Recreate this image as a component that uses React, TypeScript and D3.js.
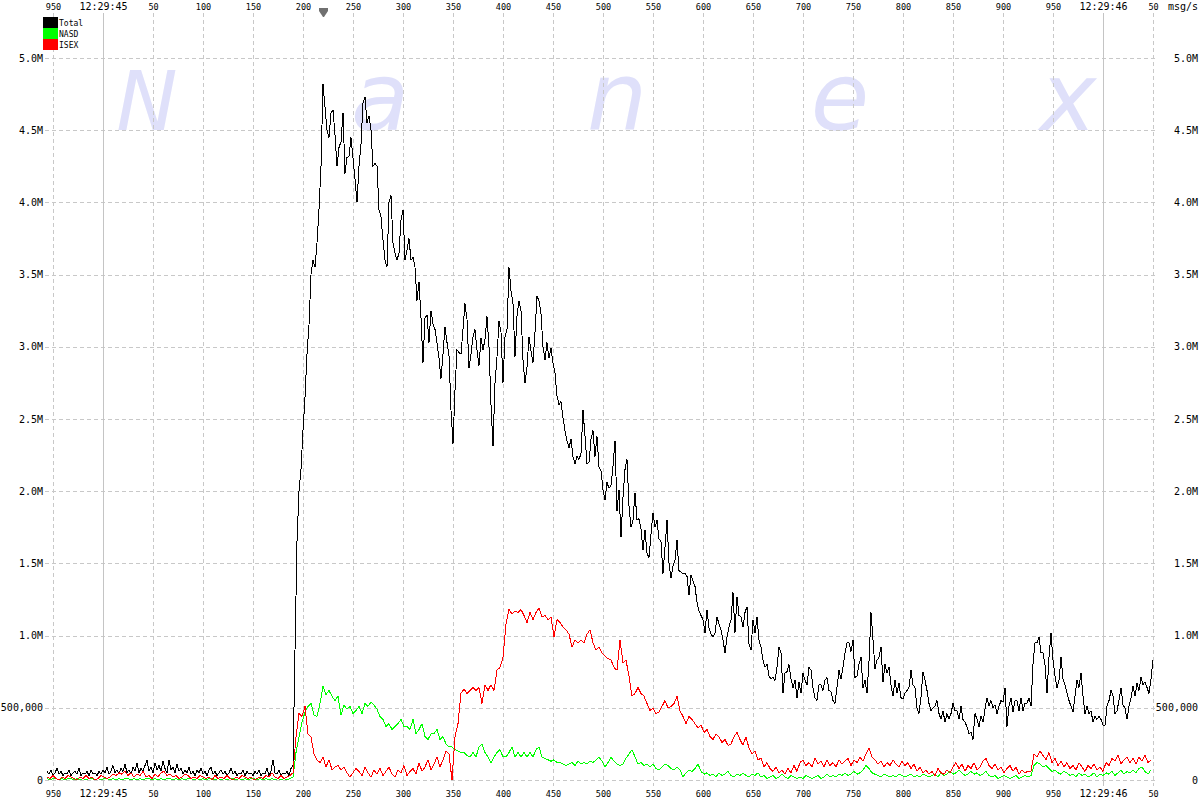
import React, { useEffect, useRef } from "react";
import * as d3 from "d3";

// time axis: milliseconds relative to 12:29:45.000
const TIME_TICKS = d3.range(-50, 1051, 50);
const VALUE_TICKS = [0, 500000, 1000000, 1500000, 2000000, 2500000, 3000000, 3500000, 4000000, 4500000, 5000000];
const SERIES_NAMES = ["Total", "NASD", "ISEX"];
const SERIES_COLORS = ["#000000", "#00ff00", "#ff0000"];
const WATERMARK = ["N", "a", "n", "e", "x"];

// values in units of 10,000 msg/s
const TOTAL_START = -56;
const TOTAL_STEP = 2;
const total10k = [
  6,4,7,3,5,8,4,6,3,5,4,7,3,5,6,4,8,3,5,4,6,3,7,4,5,3,6,
  4,7,5,9,4,6,10,5,7,4,8,6,11,5,7,4,9,6,12,5,8,6,10,
  14,6,9,5,12,7,10,6,13,8,5,14,7,9,5,11,6,8,4,7,5,9,4,6,3,7,5,
  8,4,6,3,7,9,4,6,3,5,7,4,6,3,5,8,4,6,3,5,4,7,3,6,4,5,
  3,6,4,7,3,5,4,8,3,6,14,5,4,7,3,5,4,6,3,8,
  10,90,165,200,215,242,265,295,315,350,
  360,355,372,395,425,482,466,450,445,462,
  464,447,425,438,442,462,420,431,432,445,
  431,416,400,425,440,469,473,455,460,450,
  425,427,425,395,390,374,360,355,400,405,
  372,365,360,365,388,395,360,367,375,360,
  362,355,332,345,320,289,320,322,303,325,
  316,312,303,292,278,295,314,303,294,256,
  233,270,298,296,295,312,330,319,285,295,
  307,312,298,287,306,298,305,321,300,260,
  231,275,293,318,310,275,307,312,355,339,
  330,293,321,332,325,291,275,286,307,297,
  289,310,335,332,323,300,291,303,292,299,
  289,282,266,260,262,251,242,235,230,236,
  224,219,224,222,226,256,238,219,220,236,
  242,224,238,217,214,201,194,206,202,204,
  217,235,186,201,168,196,215,222,190,175,
  180,199,180,181,174,159,173,157,154,170,
  185,175,180,167,165,143,161,180,150,140,
  148,152,166,145,144,143,143,141,128,142,
  138,134,123,117,114,111,102,118,105,101,
  99,102,113,108,104,97,88,99,106,111,
  130,102,127,114,113,106,116,120,94,90,
  111,102,113,97,92,83,78,80,72,70,
  71,69,78,92,88,60,74,75,80,70,
  64,69,57,68,60,74,69,66,78,76,
  64,57,55,66,66,62,69,71,62,61,
  55,53,64,76,70,78,88,95,95,89,
  97,71,72,80,85,64,69,60,82,116,
  97,77,83,85,92,68,80,74,78,66,
  58,69,60,67,57,56,60,62,64,76,
  66,64,50,46,57,75,69,62,53,48,
  50,51,55,46,42,48,40,46,42,46,
  53,48,48,42,51,42,40,37,32,33,
  28,46,42,37,44,40,49,57,51,55,
  50,52,46,51,55,54,64,37,51,57,
  47,55,55,48,57,48,53,53,57,51,
  80,95,95,99,88,88,80,60,85,102,
  83,72,64,69,85,70,66,60,55,51,
  47,58,69,64,74,58,46,51,46,48,
  40,44,42,44,42,38,38,51,55,62,
  58,46,48,55,64,52,50,42,51,57,
  65,58,67,62,71,66,68,64,60,70,
  83,
];

const SUB_START = -56;
const SUB_STEP = 3;
const nasd10k = [
  1,0,1,1,0,1,0,1,1,0,1,0,1,0,1,1,0,1,0,1,1,0,1,0,1,
  0,1,1,0,1,0,1,0,1,1,0,1,0,1,0,1,1,0,1,0,1,0,1,1,0,
  1,0,1,0,1,1,0,1,0,1,0,1,1,0,1,0,1,0,1,1,0,1,0,1,0,
  1,0,1,0,1,0,1,
  2,19,30,40,47,51,53,45,44,53,
  65,59,62,58,55,58,45,52,49,51,
  46,48,51,46,53,51,54,52,49,44,
  42,37,39,35,37,39,42,37,37,35,
  42,32,35,39,30,28,32,32,35,28,
  30,25,23,23,21,20,19,19,17,16,
  19,16,23,25,19,16,12,16,19,21,
  16,16,19,23,16,19,16,19,16,19,
  16,21,23,16,15,14,13,14,12,12,
  11,10,11,12,10,13,11,12,11,13,
  12,14,16,13,9,12,16,13,11,10,
  11,15,18,21,16,11,12,10,11,9,
  11,8,7,9,11,10,8,7,9,7,
  2,5,7,6,8,11,6,4,5,3,
  4,2,5,3,4,6,3,2,4,3,
  5,3,2,4,3,5,2,3,1,2,
  3,1,2,4,2,1,3,2,1,2,
  1,3,2,1,2,3,1,2,4,2,
  3,2,4,3,5,3,4,6,4,5,
  7,10,8,5,4,3,2,4,3,2,
  3,2,4,3,2,3,4,2,3,2,
  4,3,2,3,4,2,5,3,4,6,
  4,5,7,5,3,4,6,4,5,3,
  4,6,3,2,3,1,2,3,2,1,
  2,3,1,2,3,2,3,10,12,11,
  9,10,8,6,7,5,4,6,5,3,
  4,2,5,3,4,2,3,5,2,4,
  3,5,4,6,3,5,7,4,6,5,
  7,5,8,9,6,4,7,
];

const isex10k = [
  2,1,3,1,0,2,1,3,2,1,0,2,1,3,1,2,0,1,3,2,1,2,4,3,5,
  4,6,3,5,2,4,3,6,2,3,1,4,2,5,6,3,4,2,3,1,2,4,3,1,2,
  1,3,2,1,2,0,3,1,2,1,3,1,0,2,1,3,2,1,2,0,1,2,1,3,2,
  5,2,1,3,1,2,3,
  5,30,46,44,51,32,30,18,14,12,
  16,9,14,7,9,10,7,9,5,2,
  5,8,6,3,9,5,2,7,4,8,
  3,6,9,4,2,7,5,10,3,6,
  8,4,12,6,9,14,7,11,16,9,
  14,20,18,0,30,39,60,63,60,62,
  64,62,64,53,66,62,66,62,76,78,
  85,108,118,115,117,116,118,114,109,116,
  111,116,119,113,114,111,113,99,111,109,
  106,104,101,92,97,95,97,95,101,104,
  95,90,92,88,86,84,83,78,76,97,
  81,83,72,58,60,64,60,58,53,48,
  50,46,47,51,55,50,51,53,58,48,
  44,39,44,42,39,36,38,33,35,30,
  28,32,30,26,28,24,25,30,33,28,
  24,30,22,18,20,14,15,9,12,8,
  6,9,5,7,4,8,5,10,6,12,
  14,10,12,9,15,11,13,9,14,10,
  12,9,14,11,13,15,10,14,12,16,
  13,18,22,16,14,11,13,9,12,10,
  14,11,9,13,10,12,8,11,6,9,
  5,7,4,6,3,8,5,4,7,5,
  9,12,8,11,6,10,8,12,7,9,
  13,15,10,8,11,7,9,5,8,10,
  6,9,4,7,5,6,6,18,16,20,
  17,14,19,12,15,10,13,9,12,8,
  10,7,12,9,6,10,8,11,7,9,
  6,12,10,15,13,17,11,14,16,12,
  15,11,16,13,17,12,14,
];

const MARKER_TIME = 220;

function timeLabel(t: number): string {
  if (t === 0) return "12:29:45";
  if (t === 1000) return "12:29:46";
  const m = ((t % 1000) + 1000) % 1000;
  return String(m);
}
function valueLabel(v: number): string {
  if (v === 0) return "0";
  if (v < 1000000) return d3.format(",")(v);
  return (v / 1e6).toFixed(1) + "M";
}

export default function App() {
  const ref = useRef<SVGSVGElement>(null);
  useEffect(() => {
    const svg = d3.select(ref.current);
    svg.selectAll("*").remove();
    const x = d3.scaleLinear().domain([-56, 1052]).range([47, 1155]);
    const y = d3.scaleLinear().domain([0, 5000000]).range([780, 58]);
    const mono = "'DejaVu Sans Mono', monospace";

    svg.append("rect").attr("width", 1200).attr("height", 800).attr("fill", "#ffffff");

    // watermark
    const wmX = [147, 380, 617, 840, 1068];
    svg.append("g").selectAll("text").data(WATERMARK).join("text")
      .attr("x", (d, i) => wmX[i]).attr("y", 130)
      .attr("text-anchor", "middle")
      .attr("font-family", "'DejaVu Sans', sans-serif")
      .attr("font-style", "italic")
      .attr("font-size", (d, i) => (i === 0 ? 82 : 95))
      .attr("fill", "#dfe0fa")
      .text((d) => d);

    // horizontal grid
    svg.append("g").selectAll("line").data(VALUE_TICKS).join("line")
      .attr("x1", 45).attr("x2", 1155)
      .attr("y1", (d) => Math.round(y(d)) + 0.5).attr("y2", (d) => Math.round(y(d)) + 0.5)
      .attr("stroke", "#c8c8c8").attr("stroke-dasharray", "4,3");

    // vertical grid
    svg.append("g").selectAll("line").data(TIME_TICKS).join("line")
      .attr("x1", (d) => Math.round(x(d)) + 0.5).attr("x2", (d) => Math.round(x(d)) + 0.5)
      .attr("y1", 13).attr("y2", 786)
      .attr("stroke", (d) => (d % 1000 === 0 ? "#c4c4c4" : "#c8c8c8"))
      .attr("stroke-dasharray", (d) => (d % 1000 === 0 ? null : "4,3"));

    // top & bottom tick labels
    for (const [baseline] of [[10], [797]]) {
      svg.append("g").selectAll("text").data(TIME_TICKS).join("text")
        .attr("x", (d) => x(d) + 0.5).attr("y", baseline)
        .attr("text-anchor", "middle")
        .attr("font-family", mono)
        .attr("font-size", (d) => (d % 1000 === 0 ? 10 : 8.5))
        .attr("fill", "#000")
        .text((d) => timeLabel(d));
    }

    // y labels
    svg.append("g").selectAll("text").data(VALUE_TICKS).join("text")
      .attr("x", 43).attr("y", (d) => y(d) + 3.5)
      .attr("text-anchor", "end").attr("font-family", mono).attr("font-size", 10)
      .text((d) => valueLabel(d));
    svg.append("g").selectAll("text").data(VALUE_TICKS).join("text")
      .attr("x", 1198).attr("y", (d) => y(d) + 3.5)
      .attr("text-anchor", "end").attr("font-family", mono).attr("font-size", 10)
      .text((d) => valueLabel(d));
    svg.append("text").attr("x", 1198).attr("y", 10).attr("text-anchor", "end")
      .attr("font-family", mono).attr("font-size", 10).text("msg/s");

    // marker
    const mx = Math.round(x(MARKER_TIME));
    svg.append("path")
      .attr("d", `M${mx - 4},8 H${mx + 5} V11 L${mx + 1},17 H${mx} L${mx - 4},11 Z`)
      .attr("fill", "#707070");

    // series
    const seriesData = [
      { vals: total10k, start: TOTAL_START, step: TOTAL_STEP },
      { vals: nasd10k, start: SUB_START, step: SUB_STEP },
      { vals: isex10k, start: SUB_START, step: SUB_STEP },
    ];
    seriesData.forEach((s, k) => {
      const line = d3.line<number>()
        .x((d, i) => x(s.start + i * s.step))
        .y((d) => y(d * 10000));
      svg.append("path").attr("d", line(s.vals) as string)
        .attr("fill", "none").attr("stroke", SERIES_COLORS[k]).attr("stroke-width", 1)
        .attr("shape-rendering", "crispEdges");
    });

    // legend
    const lg = svg.append("g");
    SERIES_NAMES.forEach((name, i) => {
      lg.append("rect").attr("x", 43).attr("y", 17 + i * 11).attr("width", 15).attr("height", 11)
        .attr("fill", SERIES_COLORS[i]);
      lg.append("text").attr("x", 59).attr("y", 25.5 + i * 11)
        .attr("font-family", mono).attr("font-size", 8).text(name);
    });
  }, []);
  return (
    <svg ref={ref} width={1200} height={800}
      style={{ position: "absolute", left: 0, top: 0, display: "block" }} />
  );
}
